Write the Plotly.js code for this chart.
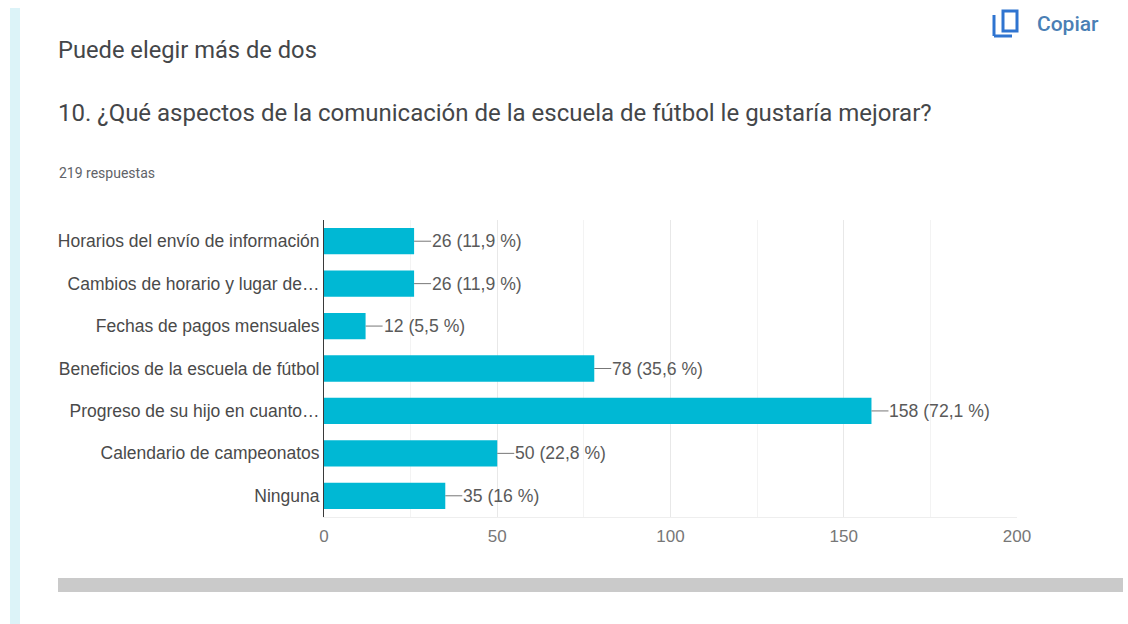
<!DOCTYPE html>
<html>
<head>
<meta charset="utf-8">
<script src="https://cdn.plot.ly/plotly-3.0.1.min.js"></script>
<style>html,body{margin:0;padding:0;background:#fff;overflow:hidden}#chart{width:1128px;height:624px}</style>
</head>
<body>
<div id="chart"></div>
<script>
const categories = [
  "Horarios del envío de información",
  "Cambios de horario y lugar de…",
  "Fechas de pagos mensuales",
  "Beneficios de la escuela de fútbol",
  "Progreso de su hijo en cuanto…",
  "Calendario de campeonatos",
  "Ninguna"
];
const counts = [26, 26, 12, 78, 158, 50, 35];
const percents = ["11,9", "11,9", "5,5", "35,6", "72,1", "22,8", "16"];
const xTicks = [0, 50, 100, 150, 200];

const W = 1128, H = 624;
const M = {l: 324, r: 111, t: 220, b: 107};
const pw = W - M.l - M.r, ph = H - M.t - M.b;
const px = v => (v - M.l) / pw;
const py = v => 1 - (v - M.t) / ph;

function pageText(text, x, y, size, color, family, weight) {
  return {text, xref: 'paper', yref: 'paper', x: px(x), y: py(y), showarrow: false,
    xanchor: 'left', yanchor: 'middle', align: 'left', borderpad: 0,
    font: {family: family || 'Roboto', size, color, weight: weight || 400}};
}
function pageRect(x0, y0, x1, y1, fill) {
  return {type: 'rect', xref: 'paper', yref: 'paper', layer: 'below',
    x0: px(x0), x1: px(x1), y0: py(y0), y1: py(y1), fillcolor: fill, line: {width: 0}};
}
function pageBox(x0, y0, x1, y1, color) {
  return {type: 'rect', xref: 'paper', yref: 'paper', layer: 'above',
    x0: px(x0), x1: px(x1), y0: py(y0), y1: py(y1), fillcolor: 'rgba(0,0,0,0)', line: {color, width: 3}};
}
function pageLine(x0, y0, x1, y1, color) {
  return {type: 'line', xref: 'paper', yref: 'paper', layer: 'above',
    x0: px(x0), x1: px(x1), y0: py(y0), y1: py(y1), line: {color, width: 3}};
}

const valueLabels = categories.map((c, i) => ({
  xref: 'x', yref: 'y', x: counts[i], y: c,
  text: counts[i] + ' (' + percents[i] + ' %)',
  showarrow: true, arrowhead: 0, arrowwidth: 1, arrowcolor: '#777777',
  ax: 17, ay: 0, xanchor: 'left', yanchor: 'middle', standoff: 0, borderpad: 0,
  font: {family: 'Liberation Sans', size: 17.6, color: '#5a5a5a'}
}));

const trace = {
  type: 'bar', orientation: 'h', x: counts, y: categories,
  width: 0.62, marker: {color: '#00b8d4', line: {width: 0}},
  hoverinfo: 'skip', cliponaxis: false
};

const layout = {
  width: W, height: H, margin: {l: M.l, r: M.r, t: M.t, b: M.b, pad: 0},
  paper_bgcolor: '#ffffff', plot_bgcolor: '#ffffff', showlegend: false,
  xaxis: {
    range: [0, 200], tickvals: xTicks, ticktext: xTicks.map(String),
    showgrid: true, gridcolor: '#e8e8e8', gridwidth: 1, zeroline: false,
    showline: true, linecolor: '#eeeeee', linewidth: 1,
    ticks: 'outside', ticklen: 4, tickcolor: 'rgba(0,0,0,0)',
    minor: {dtick: 25, showgrid: true, gridcolor: '#f3f3f3', gridwidth: 1, ticks: ''},
    tickfont: {family: 'Liberation Sans', size: 17, color: '#777777'}
  },
  yaxis: {
    type: 'category', autorange: 'reversed', categoryorder: 'array', categoryarray: categories,
    showgrid: false, zeroline: false, showline: true, linecolor: '#3a3a3a', linewidth: 1,
    ticks: '', ticklen: 0,
    tickfont: {family: 'Liberation Sans', size: 17.5, color: '#4a4a4a'}
  },
  shapes: [
    pageRect(10, 8, 20, 624, '#dcf3f8'),
    pageRect(58, 578, 1123, 592, '#cacaca'),
    pageBox(1003, 11, 1017, 31, '#2f74d0'),
    pageLine(994, 15, 994, 36, '#2f74d0'),
    pageLine(994, 36, 1012, 36, '#2f74d0')
  ],
  annotations: [
    pageText('Puede elegir más de dos', 57, 50, 23.7, '#444649'),
    pageText('10. ¿Qué aspectos de la comunicación de la escuela de fútbol le gustaría mejorar?', 57, 113, 24, '#444649'),
    pageText('219 respuestas', 58, 173, 14, '#5f6368'),
    pageText('Copiar', 1036, 24, 21, '#4a7fb5', 'Roboto', 500)
  ].concat(valueLabels)
};

Plotly.newPlot('chart', [trace], layout, {displayModeBar: false, staticPlot: true});
</script>
</body>
</html>
